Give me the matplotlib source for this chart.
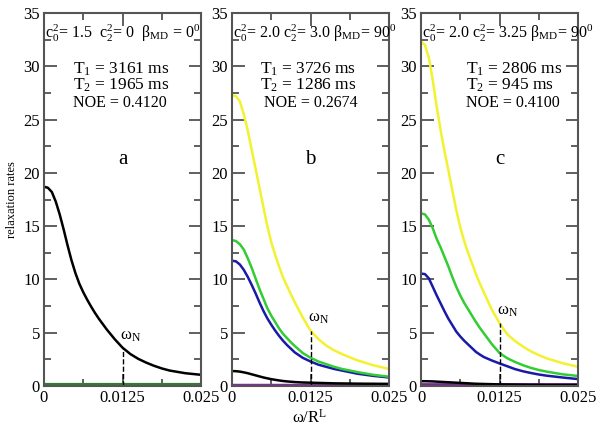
import matplotlib
matplotlib.use("Agg")
import matplotlib.pyplot as plt
from matplotlib.ticker import MultipleLocator

plt.rcParams["font.family"] = ["Liberation Serif", "DejaVu Serif"]
plt.rcParams["mathtext.fontset"] = "custom"
plt.rcParams["mathtext.rm"] = "Liberation Serif"
plt.rcParams["mathtext.it"] = "Liberation Serif:italic"

# frequency axis (omega / R^L)
w = [0, 0.000625, 0.00125, 0.001875, 0.0025, 0.003125, 0.00375, 0.004375,
     0.005, 0.005625, 0.00625, 0.006875, 0.0075, 0.008125, 0.00875, 0.009375,
     0.01, 0.01125, 0.0125, 0.01375, 0.015, 0.01625, 0.0175, 0.01875,
     0.02, 0.0225, 0.025]

# panel a
a_black = [18.7, 18.6, 18.2, 17.3, 16.1, 14.7, 13.2, 11.8, 10.6, 9.6, 8.8,
           8.1, 7.45, 6.85, 6.3, 5.8, 5.3, 4.4, 3.6, 3.0, 2.55, 2.2, 1.9,
           1.65, 1.45, 1.2, 1.05]

# panel b
b_yellow = [27.3, 27.2, 26.7, 25.5, 24.0, 22.2, 20.4, 18.6, 16.8, 15.0, 13.5,
            12.3, 11.2, 10.2, 9.4, 8.6, 7.85, 6.45, 5.2, 4.4, 3.8, 3.35, 3.0,
            2.7, 2.4, 1.95, 1.6]
b_green = [13.7, 13.6, 13.3, 12.8, 12.0, 11.1, 10.1, 9.1, 8.2, 7.3, 6.6,
           6.0, 5.4, 4.9, 4.5, 4.1, 3.75, 3.1, 2.65, 2.3, 2.05, 1.8, 1.6,
           1.45, 1.3, 1.05, 0.87]
b_blue = [11.75, 11.7, 11.4, 10.9, 10.25, 9.5, 8.7, 7.85, 7.05, 6.35, 5.75,
          5.2, 4.7, 4.25, 3.85, 3.5, 3.15, 2.65, 2.3, 2.0, 1.8, 1.6, 1.45,
          1.3, 1.15, 0.95, 0.8]
b_black = [1.4, 1.39, 1.35, 1.28, 1.2, 1.1, 1.0, 0.9, 0.8, 0.72, 0.64, 0.58,
           0.52, 0.47, 0.43, 0.4, 0.37, 0.33, 0.31, 0.29, 0.27, 0.25, 0.24,
           0.23, 0.22, 0.21, 0.2]

# panel c
c_yellow = [32.3, 32.0, 30.8, 28.7, 26.2, 24.0, 22.0, 20.2, 18.3, 16.5, 14.9,
            13.6, 12.5, 11.5, 10.5, 9.6, 8.8, 7.2, 5.9, 4.85, 4.2, 3.7, 3.25,
            2.9, 2.6, 2.15, 1.8]
c_green = [16.2, 16.1, 15.6, 14.8, 13.8, 13.0, 12.1, 11.2, 10.2, 9.3, 8.5,
           7.8, 7.2, 6.6, 6.0, 5.45, 4.95, 3.95, 3.1, 2.6, 2.25, 1.95, 1.7,
           1.5, 1.35, 1.1, 0.94]
c_blue = [10.55, 10.5, 10.1, 9.3, 8.5, 7.75, 7.0, 6.3, 5.7, 5.1, 4.65, 4.25,
          3.9, 3.55, 3.2, 2.95, 2.72, 2.4, 2.12, 1.85, 1.58, 1.38, 1.22,
          1.08, 0.97, 0.8, 0.65]
c_black = [0.45, 0.45, 0.44, 0.43, 0.41, 0.39, 0.37, 0.35, 0.33, 0.31, 0.29,
           0.27, 0.25, 0.23, 0.21, 0.2, 0.19, 0.17, 0.15, 0.14, 0.13, 0.12,
           0.11, 0.11, 0.1, 0.1, 0.1]

flat_lo = [0.08] * len(w)
flat_hi = [0.16] * len(w)

headers = [r"c$_0^2$= 1.5  c$_2^2$= 0  β$_{\rm MD}$ = 0$^0$",
           r"c$_0^2$= 2.0 c$_2^2$= 3.0 β$_{\rm MD}$= 90$^0$",
           r"c$_0^2$= 2.0 c$_2^2$= 3.25 β$_{\rm MD}$= 90$^0$"]
t1 = ["3161", "3726", "2806"]
t2 = ["1965", "1286", "945"]
noe = ["0.4120", "0.2674", "0.4100"]
letters = ["a", "b", "c"]
wn_value = [3.6, 5.2, 5.9]

fig = plt.figure(figsize=(6, 4.38), dpi=100)
lefts = [44, 232, 421]
axes = [fig.add_axes([l / 600, 52 / 438, 157 / 600, 373 / 438]) for l in lefts]

ax = axes[0]
ax.plot(w, flat_hi, color="#d9a066", lw=1.5)
ax.plot(w, flat_lo, color="#2e7d32", lw=3)
ax.plot(w, a_black, color="black", lw=1.8)

ax = axes[1]
ax.plot(w, flat_lo, color="#8e24aa", lw=2.5)
ax.plot(w, b_black, color="black", lw=1.8)
ax.plot(w, b_blue, color="#1a1aaa", lw=1.8)
ax.plot(w, b_green, color="#33cc33", lw=1.8)
ax.plot(w, b_yellow, color="#f2f230", lw=1.8)

ax = axes[2]
ax.plot(w, flat_lo, color="#a020a0", lw=2.5)
ax.plot(w, flat_hi, color="#7b1fa2", lw=1.2)
ax.plot(w, c_black, color="black", lw=1.8)
ax.plot(w, c_blue, color="#1a1aaa", lw=1.8)
ax.plot(w, c_green, color="#33cc33", lw=1.8)
ax.plot(w, c_yellow, color="#f2f230", lw=1.8)

for i, ax in enumerate(axes):
    ax.set_xlim(0, 0.025)
    ax.set_ylim(0, 35)
    ax.set_xticks([0, 0.0125, 0.025])
    ax.set_xticklabels(["0", "0.0125", "0.025"])
    ax.xaxis.set_minor_locator(MultipleLocator(0.00625))
    ax.yaxis.set_major_locator(MultipleLocator(5))
    ax.yaxis.set_minor_locator(MultipleLocator(2.5))
    ax.tick_params(which="both", direction="in", top=True, right=True,
                   labelsize=12, color="#444444", width=1.2)
    ax.tick_params(which="major", length=9, pad=3)
    ax.tick_params(which="minor", length=5)
    for s in ax.spines.values():
        s.set_color("#555555")
        s.set_linewidth(1.5)
    ax.vlines(0.0125, 0, wn_value[i], colors="black", linestyles="--", lw=1)
    ax.text(0.0121, wn_value[i] + 0.8, r"ω$_{\rm N}$", fontsize=12)
    ax.text(0.0002, 33.1, headers[i], fontsize=11.5, va="center")
    tx = [0.0046, 0.0045, 0.0072][i]
    ax.text(tx, 29.7, r"T$_1$ = " + t1[i] + " ms", fontsize=12.5, va="center")
    ax.text(tx, 28.2, r"T$_2$ = " + t2[i] + " ms", fontsize=12.5, va="center")
    ax.text(tx + (0.0006 if i == 1 else 0), 26.6, "NOE = " + noe[i],
            fontsize=11.5, va="center")
    ax.text(0.0125, 21.3, letters[i], fontsize=15, ha="center", va="center")

axes[0].set_ylabel("relaxation rates", fontsize=9, labelpad=4)
fig.text(310 / 600, 1 - 418 / 438, r"ω/R$^{\rm L}$", fontsize=12,
         ha="center", va="center")

fig.savefig("out.png", dpi=100)
